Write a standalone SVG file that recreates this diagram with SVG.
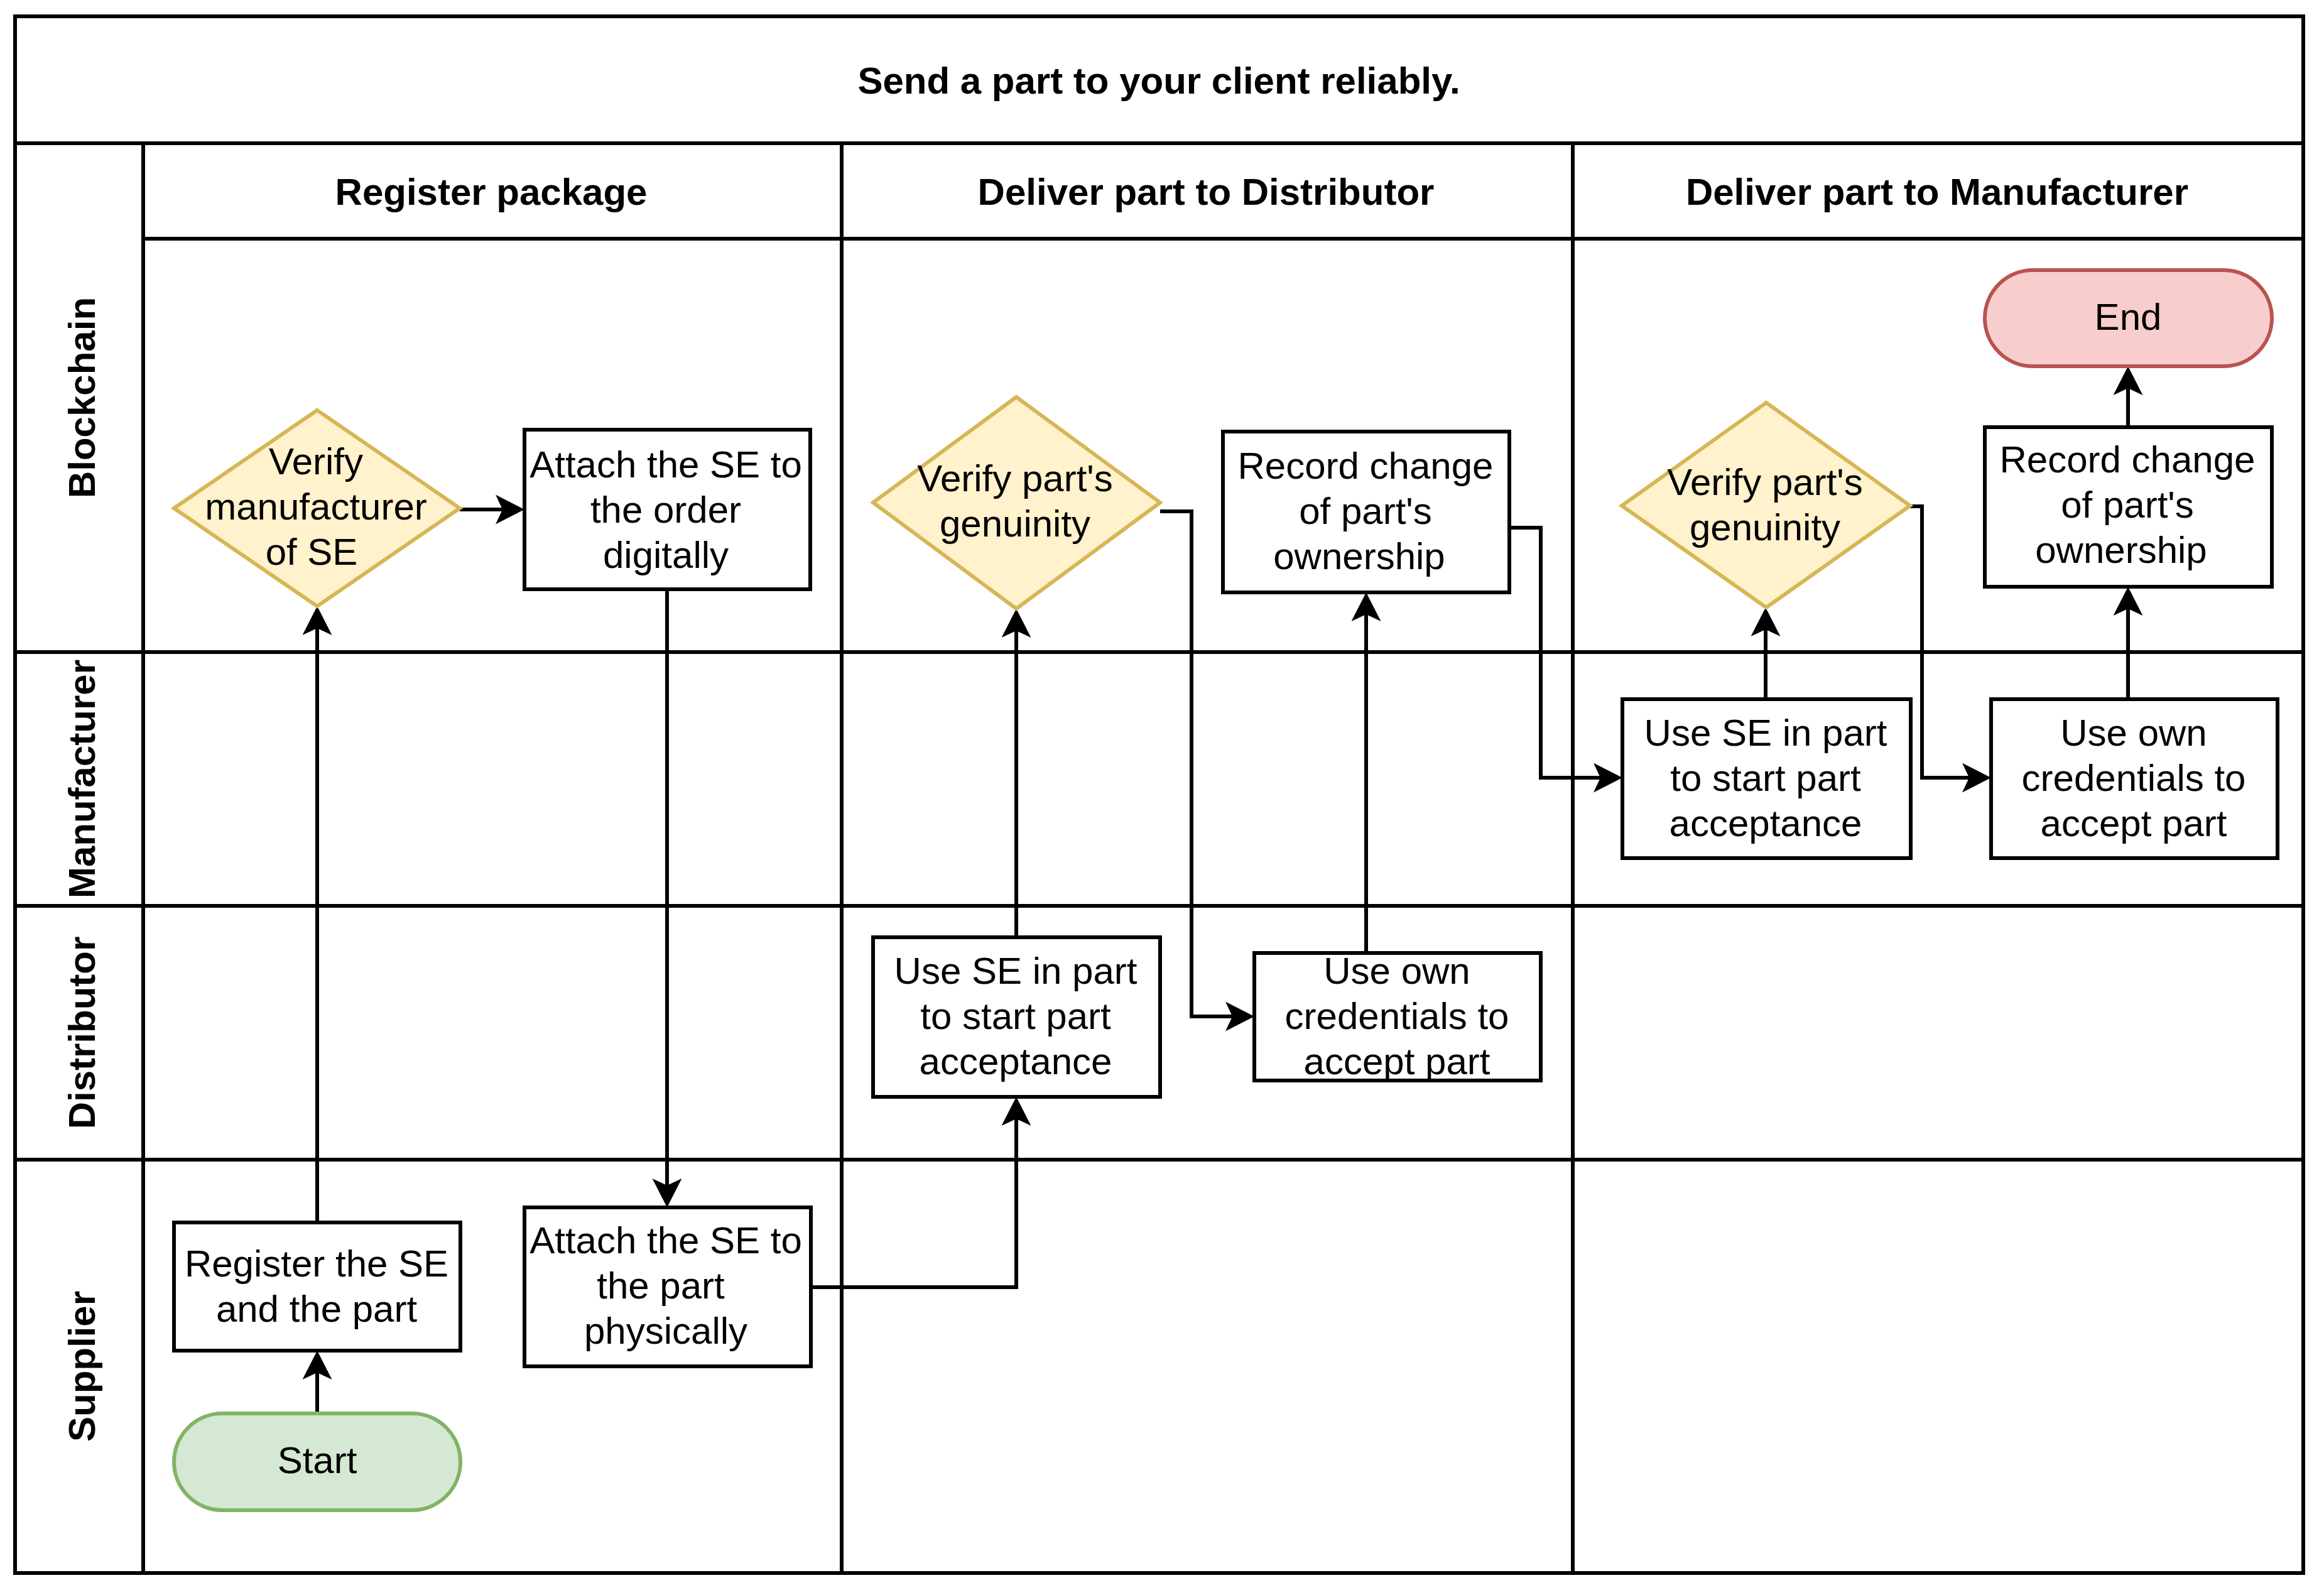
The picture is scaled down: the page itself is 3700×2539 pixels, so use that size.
<svg xmlns="http://www.w3.org/2000/svg" width="3700" height="2539" viewBox="0 0 3700 2539">
<defs>
<style>
.ln{fill:none;stroke:#000;stroke-width:6}
.cn{fill:none;stroke:#000;stroke-width:6;marker-end:url(#arr)}
.box{fill:#fff;stroke:#000;stroke-width:6}
.dia{fill:#fff2cc;stroke:#d6b656;stroke-width:6}
.st{fill:#d5e8d4;stroke:#82b366;stroke-width:6}
.en{fill:#f8cecc;stroke:#b85450;stroke-width:6}
text{font-family:"Liberation Sans",Arial,Helvetica,sans-serif;font-size:60px;fill:#000;text-anchor:middle;dominant-baseline:central}
.b{font-weight:bold}
</style>
<marker id="arr" viewBox="0 0 46 47" refX="34" refY="23.5" markerWidth="46" markerHeight="47" markerUnits="userSpaceOnUse" orient="auto"><path d="M46,23.5 L0,0 L11,23.5 L0,47 Z" fill="#000"/></marker>
</defs>
<rect x="0" y="0" width="3700" height="2539" fill="#fff"/>
<g id="pool">
<rect class="ln" x="24" y="26" width="3643" height="2478" fill="#fff"/>
<path class="ln" d="M24,228 H3667 M228,380 H3667 M228,228 V2504 M1340,228 V2504 M2504,228 V2504 M24,1038 H3667 M24,1442 H3667 M24,1846 H3667"/>
<text class="b" x="1845" y="128">Send a part to your client reliably.</text>
<text class="b" x="782" y="305">Register package</text>
<text class="b" x="1920" y="305">Deliver part to Distributor</text>
<text class="b" x="3084" y="305">Deliver part to Manufacturer</text>
<text class="b" transform="translate(130,633) rotate(-90)">Blockchain</text>
<text class="b" transform="translate(130,1240) rotate(-90)">Manufacturer</text>
<text class="b" transform="translate(130,1644) rotate(-90)">Distributor</text>
<text class="b" transform="translate(130,2175) rotate(-90)">Supplier</text>
</g>
<g id="connectors">
<path class="cn" d="M505,2250 L505,2162"/>
<path class="cn" d="M505,1946 L505,977"/>
<path class="cn" d="M732,811 L823,811"/>
<path class="cn" d="M1062,938 L1062,1910"/>
<path class="cn" d="M1291,2049 L1618,2049 L1618,1758"/>
<path class="cn" d="M1618,1492 L1618,981"/>
<path class="cn" d="M1847,814 L1897,814 L1897,1618 L1985,1618"/>
<path class="cn" d="M2175,1517 L2175,955"/>
<path class="cn" d="M2403,840 L2453,840 L2453,1238 L2571,1238"/>
<path class="cn" d="M2811,1113 L2811,979"/>
<path class="cn" d="M3041,806 L3060,806 L3060,1238 L3158,1238"/>
<path class="cn" d="M3388,1113 L3388,946"/>
<path class="cn" d="M3388,680 L3388,595"/>
</g>
<g id="start">
<rect class="st" x="277" y="2250" width="456" height="154" rx="77" ry="77"/>
<text x="505" y="2324">Start</text>
</g>
<g id="register">
<rect class="box" x="277" y="1946" width="456" height="204"/>
<text x="504" y="2011">Register the SE</text>
<text x="504" y="2083">and the part</text>
</g>
<g id="attach-physical">
<rect class="box" x="835" y="1922" width="456" height="253"/>
<text x="1060" y="1974">Attach the SE to</text>
<text x="1052" y="2046">the part</text>
<text x="1060" y="2118">physically</text>
</g>
<g id="verify-manufacturer">
<polygon class="dia" points="505,653 732,809 505,965 277,809"/>
<text x="503" y="734">Verify</text>
<text x="503" y="806">manufacturer</text>
<text x="496" y="878">of SE</text>
</g>
<g id="attach-digital">
<rect class="box" x="835" y="684" width="455" height="254"/>
<text x="1060" y="739">Attach the SE to</text>
<text x="1060" y="811">the order</text>
<text x="1060" y="883">digitally</text>
</g>
<g id="use-se-distributor">
<rect class="box" x="1390" y="1492" width="457" height="254"/>
<text x="1617" y="1545">Use SE in part</text>
<text x="1617" y="1617">to start part</text>
<text x="1617" y="1689">acceptance</text>
</g>
<g id="verify-genuinity-1">
<polygon class="dia" points="1618,632 1847,800 1618,969 1390,800"/>
<text x="1616" y="761">Verify part's</text>
<text x="1616" y="833">genuinity</text>
</g>
<g id="use-own-distributor">
<rect class="box" x="1997" y="1517" width="456" height="203"/>
<text x="2224" y="1545">Use own</text>
<text x="2224" y="1617">credentials to</text>
<text x="2224" y="1689">accept part</text>
</g>
<g id="record-1">
<rect class="box" x="1947" y="687" width="456" height="256"/>
<text x="2174" y="741">Record change</text>
<text x="2174" y="813">of part's</text>
<text x="2164" y="885">ownership</text>
</g>
<g id="use-se-manufacturer">
<rect class="box" x="2583" y="1113" width="459" height="253"/>
<text x="2811" y="1166">Use SE in part</text>
<text x="2811" y="1238">to start part</text>
<text x="2811" y="1310">acceptance</text>
</g>
<g id="verify-genuinity-2">
<polygon class="dia" points="2812,641 3041,805 2812,967 2582,805"/>
<text x="2810" y="767">Verify part's</text>
<text x="2810" y="839">genuinity</text>
</g>
<g id="use-own-manufacturer">
<rect class="box" x="3170" y="1113" width="456" height="253"/>
<text x="3397" y="1166">Use own</text>
<text x="3397" y="1238">credentials to</text>
<text x="3397" y="1310">accept part</text>
</g>
<g id="record-2">
<rect class="box" x="3160" y="680" width="457" height="254"/>
<text x="3387" y="731">Record change</text>
<text x="3387" y="803">of part's</text>
<text x="3377" y="875">ownership</text>
</g>
<g id="end">
<rect class="en" x="3160" y="430" width="457" height="153" rx="76.5" ry="76.5"/>
<text x="3388" y="504">End</text>
</g>
</svg>
